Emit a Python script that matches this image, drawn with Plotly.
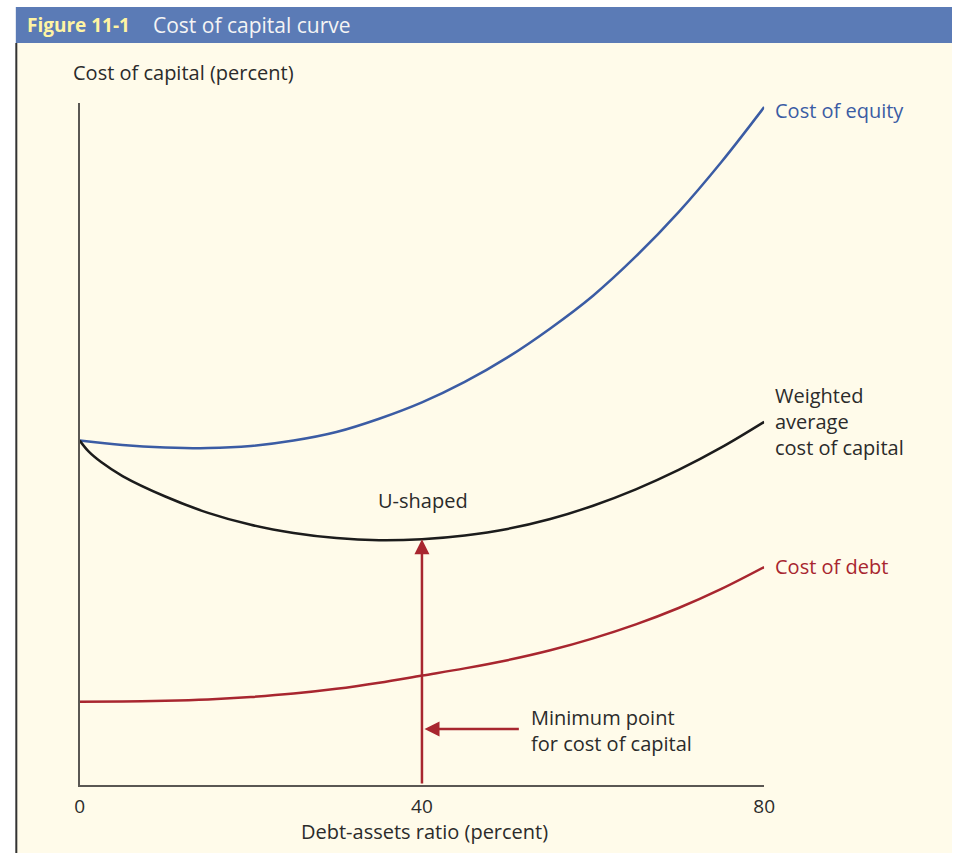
import plotly.graph_objects as go

W, H = 963, 853

# ---- data ----
debt_ratio = [0, 5, 10, 15, 20, 25, 30, 35, 40, 45, 50, 55, 60, 65, 70, 75, 80]
cost_equity = [10.10, 9.97, 9.90, 9.88, 9.94, 10.10, 10.35, 10.74, 11.22, 11.82,
               12.54, 13.39, 14.35, 15.50, 16.80, 18.27, 19.88]
wacc_ratio = [0, 1, 2.5, 5, 10, 15, 20, 25, 30, 35, 40, 45, 50, 55, 60, 65, 70, 75, 80]
wacc = [10.10, 9.79, 9.47, 9.06, 8.46, 7.98, 7.63, 7.39, 7.24, 7.18, 7.21, 7.32,
        7.51, 7.80, 8.19, 8.67, 9.24, 9.90, 10.65]
cost_debt = [2.44, 2.45, 2.47, 2.51, 2.58, 2.68, 2.82, 3.00, 3.21, 3.42, 3.66,
             3.95, 4.30, 4.71, 5.19, 5.75, 6.39]
x_ticks = [0, 40, 80]
x_tick_labels = ["0", "40", "80"]
min_point_x = 40
min_point_y = wacc[wacc_ratio.index(min_point_x)]
arrow_y = 1.64
arrow_tail_x = 51.5

BLUE = "#3b5ca4"
RED = "#a8262f"
BLACK = "#1c1c1c"
TEXT = "#2b2b2b"
FONT = "Open Sans"


def px(x):
    return x / W


def py(y):
    return 1 - y / H


fig = go.Figure()
fig.add_trace(go.Scatter(x=debt_ratio, y=cost_equity, mode="lines",
                         line=dict(color=BLUE, width=2.5, shape="spline", smoothing=1),
                         name="Cost of equity", hoverinfo="skip"))
fig.add_trace(go.Scatter(x=wacc_ratio, y=wacc, mode="lines",
                         line=dict(color=BLACK, width=2.5, shape="spline", smoothing=1),
                         name="Weighted average cost of capital", hoverinfo="skip"))
fig.add_trace(go.Scatter(x=debt_ratio, y=cost_debt, mode="lines",
                         line=dict(color=RED, width=2.5, shape="spline", smoothing=1),
                         name="Cost of debt", hoverinfo="skip"))

shapes = [
    dict(type="rect", xref="paper", yref="paper", x0=px(11), x1=px(963),
         y0=py(853), y1=py(43), fillcolor="#fffbea", line=dict(width=0), layer="below"),
    dict(type="rect", xref="paper", yref="paper", x0=px(11), x1=px(963),
         y0=py(43), y1=py(7), fillcolor="#5b7bb6", line=dict(width=0), layer="below"),
    dict(type="line", xref="paper", yref="paper", x0=px(11.5), x1=px(11.5),
         y0=py(853), y1=py(43), line=dict(color="#333333", width=2)),
]

annotations = [
    dict(xref="paper", yref="paper", x=px(20), y=py(25), xanchor="left", yanchor="middle",
         text="<b>Figure 11-1</b>", showarrow=False,
         font=dict(family=FONT, size=19, color="#fff4a3")),
    dict(xref="paper", yref="paper", x=px(148), y=py(25), xanchor="left", yanchor="middle",
         text="Cost of capital curve", showarrow=False,
         font=dict(family=FONT, size=21, color="#f4f4f4")),
    dict(xref="paper", yref="paper", x=px(67), y=py(72), xanchor="left", yanchor="middle",
         text="Cost of capital (percent)", showarrow=False,
         font=dict(family=FONT, size=20, color=TEXT)),
    dict(xref="paper", yref="paper", x=px(427), y=py(831), xanchor="center", yanchor="middle",
         text="Debt-assets ratio (percent)", showarrow=False,
         font=dict(family=FONT, size=20, color=TEXT)),
    dict(xref="paper", yref="paper", x=px(781), y=py(110), xanchor="left", yanchor="middle",
         text="Cost of equity", showarrow=False,
         font=dict(family=FONT, size=20, color=BLUE)),
    dict(xref="paper", yref="paper", x=px(781), y=py(422), xanchor="left", yanchor="middle",
         text="Weighted<br>average<br>cost of capital", showarrow=False, align="left",
         font=dict(family=FONT, size=20, color=TEXT)),
    dict(xref="paper", yref="paper", x=px(781), y=py(566), xanchor="left", yanchor="middle",
         text="Cost of debt", showarrow=False,
         font=dict(family=FONT, size=20, color=RED)),
    dict(xref="paper", yref="paper", x=px(425), y=py(500), xanchor="center", yanchor="middle",
         text="U-shaped", showarrow=False,
         font=dict(family=FONT, size=20, color=TEXT)),
    dict(xref="paper", yref="paper", x=px(533), y=py(730), xanchor="left", yanchor="middle",
         text="Minimum point<br>for cost of capital", showarrow=False, align="left",
         font=dict(family=FONT, size=20, color=TEXT)),
    dict(x=min_point_x, y=min_point_y, ax=min_point_x, ay=0, xref="x", yref="y",
         axref="x", ayref="y", text="", showarrow=True, arrowhead=2, arrowsize=1.2,
         arrowwidth=2.5, arrowcolor=RED, standoff=0),
    dict(x=40.3, y=arrow_y, ax=arrow_tail_x, ay=arrow_y, xref="x", yref="y",
         axref="x", ayref="y", text="", showarrow=True, arrowhead=2, arrowsize=1.2,
         arrowwidth=2.5, arrowcolor=RED, standoff=0),
]

fig.update_layout(
    width=W, height=H, autosize=False,
    margin=dict(l=0, r=0, t=0, b=0),
    paper_bgcolor="white", plot_bgcolor="rgba(0,0,0,0)",
    showlegend=False,
    shapes=shapes, annotations=annotations,
    xaxis=dict(domain=[px(76), px(772)], range=[0, 80], showgrid=False, zeroline=False,
               showline=True, linecolor="#5a5753", linewidth=2,
               tickmode="array", tickvals=x_ticks, ticktext=x_tick_labels, ticks="",
               ticklabelstandoff=3,
               tickfont=dict(family=FONT, size=19, color=TEXT), fixedrange=True),
    yaxis=dict(domain=[py(785), py(103)], range=[0, 20], showgrid=False, zeroline=False,
               showline=True, linecolor="#5a5753", linewidth=2,
               showticklabels=False, ticks="", fixedrange=True),
)

fig.write_html(
    "out.html",
    config={"displayModeBar": False, "responsive": False},
    post_script="document.body.style.margin='0';document.body.style.overflow='hidden';",
)
